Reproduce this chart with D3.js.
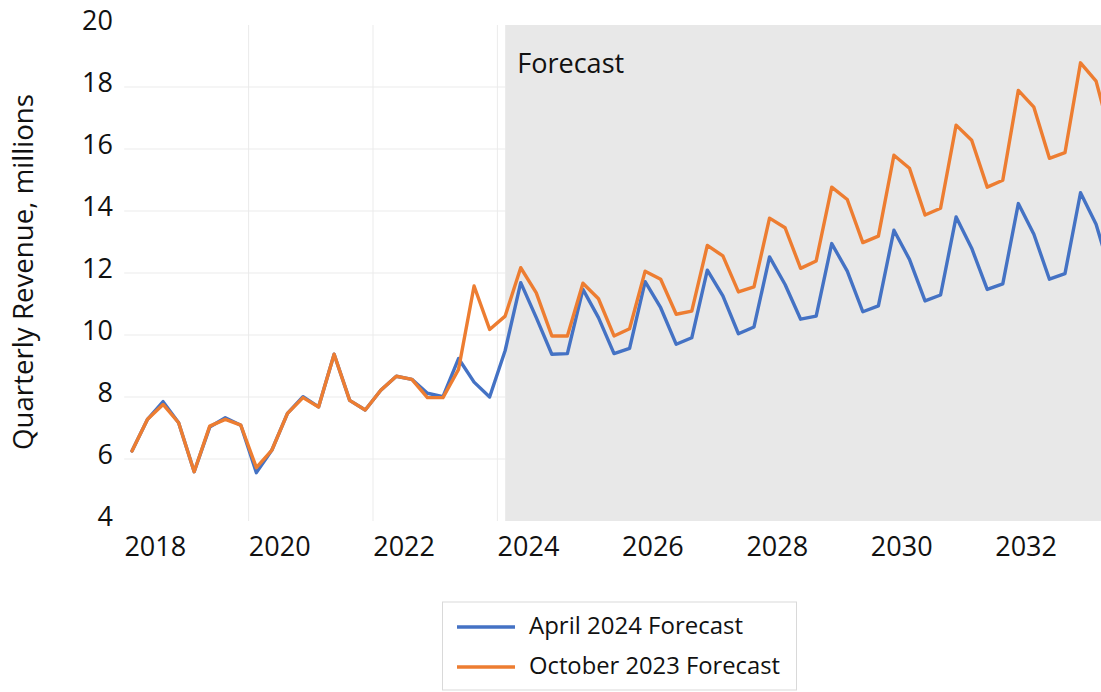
<!DOCTYPE html>
<html>
<head>
<meta charset="utf-8">
<script src="https://cdn.jsdelivr.net/npm/d3@7"></script>
<style>
  body { margin: 0; background: #ffffff; }
  svg { display: block; font-family: 'Open Sans', 'Noto Sans', sans-serif; }
</style>
</head>
<body>
<svg id="chart" width="1101" height="692"></svg>
<script>
// ---- data (quarterly, starting 2017 Q3) ----
const firstYear = 2017;
const firstQuarter = 3;
const april2024 = [
  6.26, 7.28, 7.85, 7.17, 5.59, 7.03, 7.33, 7.09,
  5.56, 6.29, 7.47, 8.01, 7.68, 9.38, 7.89, 7.58,
  8.22, 8.67, 8.57, 8.12, 8.01, 9.24, 8.48, 8.00,
  9.50, 11.69, 10.56, 9.38, 9.40, 11.47, 10.56, 9.40,
  9.57, 11.72, 10.88, 9.70, 9.91, 12.09, 11.26, 10.04,
  10.26, 12.52, 11.63, 10.51, 10.61, 12.95, 12.06, 10.75,
  10.94, 13.38, 12.44, 11.10, 11.29, 13.81, 12.80, 11.47,
  11.65, 14.24, 13.25, 11.80, 11.98, 14.59, 13.57, 11.90
];
const october2023 = [
  6.26, 7.28, 7.76, 7.17, 5.59, 7.06, 7.28, 7.09,
  5.72, 6.29, 7.47, 7.98, 7.68, 9.38, 7.89, 7.58,
  8.22, 8.67, 8.57, 7.98, 7.98, 8.89, 11.58, 10.18,
  10.61, 12.17, 11.36, 9.97, 9.97, 11.67, 11.17, 9.97,
  10.20, 12.06, 11.80, 10.67, 10.77, 12.89, 12.55, 11.39,
  11.55, 13.77, 13.46, 12.15, 12.39, 14.77, 14.37, 12.98,
  13.19, 15.80, 15.38, 13.87, 14.09, 16.77, 16.28, 14.77,
  14.99, 17.89, 17.35, 15.70, 15.88, 18.78, 18.19, 16.30
];
const seriesNames = ["April 2024 Forecast", "October 2023 Forecast"];
const seriesColors = ["#4472C4", "#ED7D31"];
const yTicks = [4, 6, 8, 10, 12, 14, 16, 18, 20];
const yGridValues = [6, 8, 10, 12, 14, 16, 18];
const xTickYears = [2018, 2020, 2022, 2024, 2026, 2028, 2030, 2032];
const xGridYears = [2019.5, 2021.5, 2023.5];
const forecastStartIndex = 24;
const yAxisTitle = "Quarterly Revenue, millions";
const forecastLabel = "Forecast";

// ---- layout ----
const W = 1101, H = 692;
const plotTop = 25, plotBottom = 521;
const svg = d3.select("#chart");

// time position of quarter i (mid-quarter, fractional year)
const tOf = i => firstYear + (firstQuarter - 1) * 0.25 + 0.125 + i * 0.25;

const pxPerYear = 62.2;
const x = d3.scaleLinear()
  .domain([2017.5, 2034])
  .range([124.2, 124.2 + 16.5 * pxPerYear]);
const y = d3.scaleLinear().domain([4, 20]).range([plotBottom, plotTop]);

// gridlines
svg.append("g").selectAll("line.h").data(yGridValues).join("line")
  .attr("x1", x(2017.5)).attr("x2", W)
  .attr("y1", d => y(d)).attr("y2", d => y(d))
  .attr("stroke", "#ebebeb").attr("stroke-width", 1);
svg.append("g").selectAll("line.v").data(xGridYears).join("line")
  .attr("x1", d => x(d)).attr("x2", d => x(d))
  .attr("y1", plotTop).attr("y2", plotBottom)
  .attr("stroke", "#ebebeb").attr("stroke-width", 1);

// forecast shading
const shadeX = x(tOf(forecastStartIndex));
svg.append("rect")
  .attr("x", shadeX).attr("y", plotTop)
  .attr("width", W - shadeX).attr("height", plotBottom - plotTop)
  .attr("fill", "#e8e8e8");

svg.append("text")
  .attr("x", shadeX + 12).attr("y", 73)
  .attr("font-size", 27).attr("fill", "#111")
  .attr("textLength", 107).attr("lengthAdjust", "spacingAndGlyphs")
  .text(forecastLabel);

// lines
const line = d3.line().x((d, i) => x(tOf(i))).y(d => y(d));
[april2024, october2023].forEach((s, k) => {
  svg.append("path").datum(s)
    .attr("d", line)
    .attr("fill", "none")
    .attr("stroke", seriesColors[k])
    .attr("stroke-width", 3.4)
    .attr("stroke-linejoin", "round")
    .attr("stroke-linecap", "round");
});

// y tick labels
svg.append("g").selectAll("text").data(yTicks).join("text")
  .attr("x", 113).attr("y", d => y(d) + 5)
  .attr("text-anchor", "end")
  .attr("font-size", 27).attr("fill", "#111")
  .text(d => d);

// x tick labels
svg.append("g").selectAll("text").data(xTickYears).join("text")
  .attr("x", d => x(d)).attr("y", 556)
  .attr("text-anchor", "middle")
  .attr("font-size", 27).attr("fill", "#111")
  .text(d => d);

// y axis title
svg.append("text")
  .attr("transform", "translate(33,272) rotate(-90)")
  .attr("text-anchor", "middle")
  .attr("font-size", 27).attr("fill", "#111")
  .attr("textLength", 356).attr("lengthAdjust", "spacingAndGlyphs")
  .text(yAxisTitle);

// legend
const lg = svg.append("g");
lg.append("rect")
  .attr("x", 442.5).attr("y", 602).attr("width", 354).attr("height", 88)
  .attr("fill", "#fff").attr("stroke", "#d9d9d9").attr("stroke-width", 1);
const legendWidths = [214, 251];
seriesNames.forEach((name, k) => {
  const cy = 627 + k * 40;
  lg.append("line")
    .attr("x1", 457).attr("x2", 515).attr("y1", cy).attr("y2", cy)
    .attr("stroke", seriesColors[k]).attr("stroke-width", 3.4);
  lg.append("text")
    .attr("x", 529).attr("y", cy + 6.5)
    .attr("font-size", 23.5).attr("fill", "#111")
    .attr("textLength", legendWidths[k]).attr("lengthAdjust", "spacingAndGlyphs")
    .text(name);
});
</script>
</body>
</html>
